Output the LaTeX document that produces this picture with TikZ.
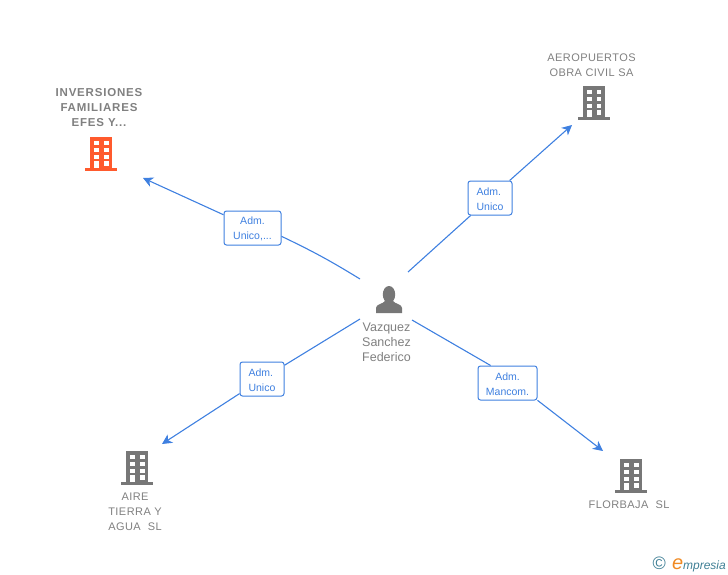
\documentclass[tikz,border=0pt]{standalone}
\usepackage{fontspec}
\setmainfont{Liberation Sans}
\newfontfamily\spacedfont[LetterSpace=4]{Liberation Sans}
\newfontfamily\widefont[LetterSpace=7]{Liberation Sans}
\usetikzlibrary{arrows.meta, positioning}
\definecolor{linkblue}{HTML}{3F80E0}
\definecolor{icongray}{HTML}{777777}
\definecolor{textgray}{HTML}{808080}
\definecolor{iconorange}{HTML}{FF5A2D}
\definecolor{logoteal}{HTML}{3F7F95}
\definecolor{logoorange}{HTML}{F08A24}
\newcommand{\admline}{\rule{0pt}{9.5pt}Adm.}
\tikzstyle{arrow} = [draw=linkblue, line width=1.1pt, -{Stealth[length=10pt,width=10pt,inset=3pt]}]
\tikzstyle{link} = [draw=linkblue, line width=1.1pt]
\tikzstyle{role} = [rectangle, rounded corners=2.5pt, draw=linkblue, line width=1pt, fill=white, text=linkblue, align=center, inner sep=0pt, minimum height=34pt, font=\fontsize{10.5}{15}\selectfont]
\tikzstyle{company} = [text=textgray, align=center, inner sep=0pt, font=\spacedfont\fontsize{11}{15}\selectfont]
\tikzset{
    building/.pic={
        \fill[pic actions] (-11,-17) rectangle (11,15);
        \fill[pic actions] (-16,14) rectangle (16,17);
        \foreach \y in {-13,-5.7,1} {
            \fill[white] (-6.7,\y) rectangle ++(4.7,4);
            \fill[white] (3,\y) rectangle ++(4.7,4);
        }
        \fill[white] (-6.7,7) rectangle (-2,14);
        \fill[white] (3,7) rectangle (7.7,11.7);
    }
}

\begin{document}
\begin{tikzpicture}[x=1pt, y=-1pt]
    \useasboundingbox (0,0) rectangle (728,575);

    % Empresas
    \node (inversiones) [company, font=\widefont\bfseries\fontsize{11.5}{15}\selectfont] at (99,108) {INVERSIONES\\FAMILIARES\\EFES Y...};
    \node (aeropuertos) [company] at (591.5,65) {AEROPUERTOS\\OBRA CIVIL SA};
    \node (aire) [company] at (135,512) {AIRE\\TIERRA Y\\AGUA\ \ SL};
    \node (florbaja) [company] at (629,505) {FLORBAJA\ \ SL};
    \pic [fill=iconorange] at (101,154) {building};
    \pic [fill=icongray] at (593.5,103) {building};
    \pic [fill=icongray] at (137,468) {building};
    \pic [fill=icongray] at (631,476) {building};

    % Persona
    \node (vazquez) [text=textgray, align=center, inner sep=0pt, font=\fontsize{12.5}{15}\selectfont] at (386.5,342) {Vazquez\\Sanchez\\Federico};
    \fill[icongray] (389,294.5) ellipse (6.2 and 8.5);
    \fill[icongray] (376,313) -- (376,308) .. controls (376,304) and (383,304) .. (385,301) -- (393,301) .. controls (395,304) and (402,304) .. (402,308) -- (402,313) -- cycle;

    % Cargos
    \node (admInversiones) [role, minimum width=57pt] at (252.5,228) {\admline\\Unico,...};
    \node (admAeropuertos) [role, minimum width=44pt, align=left] at (490,198) {\admline\\Unico};
    \node (admAire) [role, minimum width=44pt, align=left] at (262,379) {\admline\\Unico};
    \node (admFlorbaja) [role, minimum width=59pt] at (507.5,383) {\admline\\Mancom.};

    % Extremos libres
    \coordinate (fromInversiones) at (360,279);
    \coordinate (fromAeropuertos) at (408,272);
    \coordinate (fromAire) at (360,319);
    \coordinate (fromFlorbaja) at (412,320);
    \coordinate (toInversiones) at (143,178);
    \coordinate (toAeropuertos) at (572,125);
    \coordinate (toAire) at (162,444);
    \coordinate (toFlorbaja) at (603,451);

    % Frecce
    \draw [link] (fromInversiones) to[bend right=3] (admInversiones.-16);
    \draw [arrow] (admInversiones) -- (toInversiones);
    \draw [link] (fromAeropuertos) -- (admAeropuertos);
    \draw [arrow] (admAeropuertos) -- (toAeropuertos);
    \draw [link] (fromAire) -- (admAire);
    \draw [arrow] (admAire) -- (toAire);
    \draw [link] (fromFlorbaja) -- (admFlorbaja.134);
    \draw [arrow] (admFlorbaja.-30) -- (toFlorbaja);

    % Logo
    \node (logo) [inner sep=0pt, anchor=east, text=logoteal, font=\itshape\fontsize{12}{15}\selectfont] at (726,564) {\textcolor{logoteal}{\normalfont\fontsize{18}{15}\selectfont\char"00A9}\hspace{6pt}\textcolor{logoorange}{\fontsize{20}{15}\selectfont e}mpresia};
\end{tikzpicture}
\end{document}
